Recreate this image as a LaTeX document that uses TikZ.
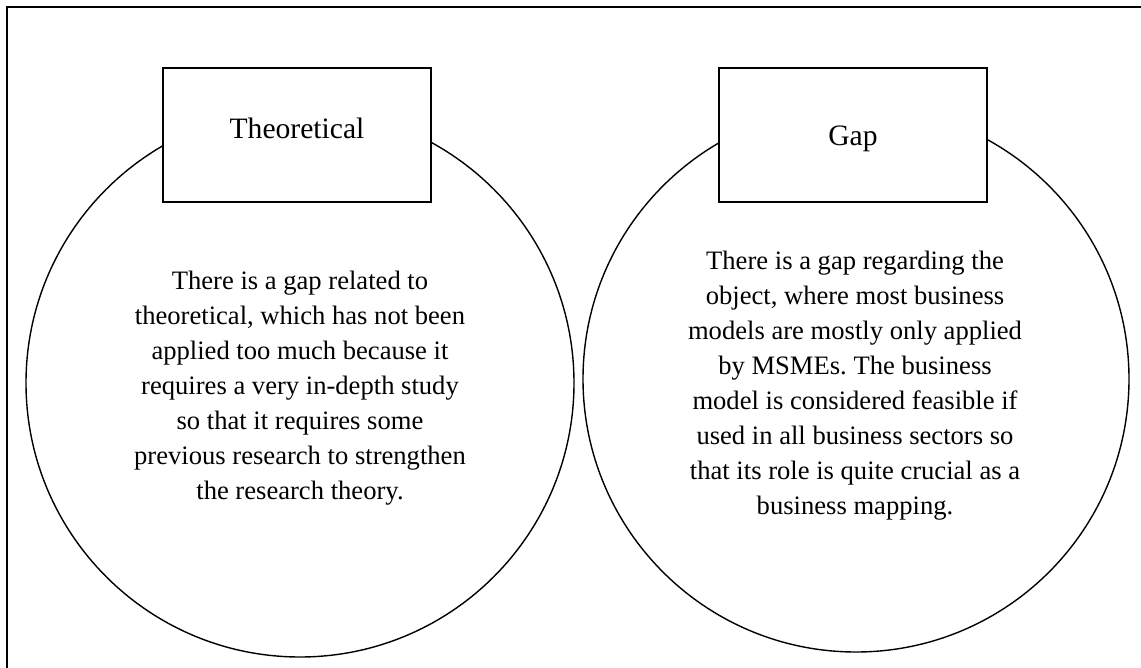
\documentclass[tikz,border=0pt]{standalone}
\usepackage{fontspec}
\setmainfont{Liberation Serif}
\frenchspacing
\begin{document}
\begin{tikzpicture}[x=1pt,y=-1pt,
  frame/.style={draw=black,line width=1.7pt},
  ring/.style={draw=black,line width=1.4pt,circle,inner sep=0pt},
  labelbox/.style={draw=black,line width=1.7pt,fill=white,minimum width=268pt,minimum height=134pt,inner sep=0pt},
  labeltext/.style={font=\fontsize{29.6}{34}\selectfont,inner sep=0pt,anchor=base},
  bodytext/.style={font=\fontsize{26.6}{35}\selectfont,align=center,inner sep=0pt}]
\useasboundingbox (0,0) rectangle (1141,668);
\clip (0,0) rectangle (1141,668);
\draw[frame] (7,7) rectangle (1160,690);
\node[ring,minimum size=548pt] (c1) at (300,383) {};
\node[ring,minimum size=546pt] (c2) at (856,379) {};
\node[labelbox] (b1) at (297,135) {};
\node[labelbox] (b2) at (853,135) {};
\node[labeltext] (t1) at (297,139) {Theoretical};
\node[labeltext] (t2) at (853,146) {Gap};
\node[bodytext] (p1) at (300,388) {There is a gap related to\\theoretical, which has not been\\applied too much because it\\requires a very in-depth study\\so that it requires some\\previous research to strengthen\\the research theory.};
\node[bodytext] (p2) at (855,386) {There is a gap regarding the\\object, where most business\\models are mostly only applied\\by MSMEs. The business\\model is considered feasible if\\used in all business sectors so\\that its role is quite crucial as a\\business mapping.};
\end{tikzpicture}
\end{document}
